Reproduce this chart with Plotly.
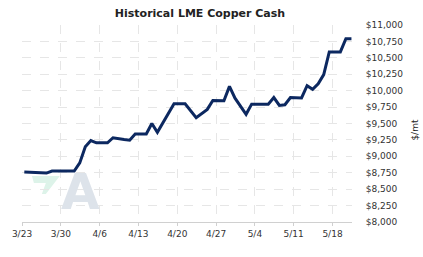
import pandas as pd
import plotly.graph_objects as go

# ---- data ----
start_date = "2021-03-23"
day_offsets = [0, 2, 4, 5, 9, 10, 11, 12, 13, 15, 16, 18, 19, 20, 22, 23, 24, 27, 29,
               31, 33, 34, 36, 37, 38, 40, 41, 44, 45, 46, 47, 48, 50, 51, 52, 53, 54,
               55, 57, 58, 59]
prices = [8760, 8755, 8745, 8775, 8775, 8900, 9145, 9240, 9205, 9205, 9283, 9255, 9245,
          9340, 9340, 9500, 9365, 9800, 9800, 9590, 9715, 9850, 9845, 10065, 9885, 9640,
          9795, 9795, 9895, 9775, 9785, 9895, 9890, 10075, 10020, 10105, 10245, 10590,
          10590, 10790, 10790]
tick_labels = ["3/23", "3/30", "4/6", "4/13", "4/20", "4/27", "5/4", "5/11", "5/18"]
title_text = "Historical LME Copper Cash"
y_title = "$/mt"

# ---- build ----
base = pd.Timestamp(start_date)
dates = [base + pd.Timedelta(days=d) for d in day_offsets]
shift = pd.Timedelta(hours=10)
tickvals = [base + pd.Timedelta(days=7 * i) - shift for i in range(len(tick_labels))]
x_range = [base - shift, base + pd.Timedelta(days=59.1)]

fig = go.Figure()
fig.add_trace(go.Scatter(x=dates, y=prices, mode="lines",
                         line=dict(color="#0c2860", width=3), hoverinfo="skip"))

W, H = 423, 257
L, R, T, B = 20, 71, 25, 35
pw, ph = W - L - R, H - T - B

def px(x):
    return (x - L) / pw

def py(y):
    return (H - B - y) / ph

# watermark logo (decorative)
green = [(30, 176), (58, 176), (44, 194), (40, 194), (44, 183), (32, 183)]
path_g = "M " + " L ".join(f"{px(a):.4f},{py(b):.4f}" for a, b in green) + " Z"
fig.add_shape(type="path", path=path_g, xref="paper", yref="paper",
              fillcolor="#ddf3e9", line=dict(width=0), layer="below")
fig.add_annotation(x=px(79), y=py(192), xref="paper", yref="paper", text="<b>A</b>",
                   showarrow=False, font=dict(family="DejaVu Sans", size=50, color="#dde3ea"),
                   xanchor="center", yanchor="middle")

fig.add_annotation(x=px(415), y=py(130), xref="paper", yref="paper", text=y_title,
                   textangle=-90, showarrow=False,
                   font=dict(family="DejaVu Sans", size=9, color="#222"),
                   xanchor="center", yanchor="middle")

fig.update_layout(
    width=W, height=H,
    margin=dict(l=L, r=R, t=T, b=B),
    paper_bgcolor="white", plot_bgcolor="white",
    showlegend=False,
    title=dict(text=f"<b>{title_text}</b>", xref="container", yref="container",
               x=200 / W, y=1 - 13 / H, xanchor="center", yanchor="middle",
               font=dict(family="DejaVu Sans", size=11, color="#222")),
    xaxis=dict(type="date", range=x_range, tickmode="array", tickvals=tickvals,
               ticktext=tick_labels, showgrid=True, gridcolor="#e6e6e6", griddash="dash",
               gridwidth=1, showline=True, linecolor="#d0d0d0", linewidth=1,
               ticks="outside", ticklen=3, tickcolor="#d0d0d0",
               tickfont=dict(family="DejaVu Sans", size=9, color="#333"), zeroline=False),
    yaxis=dict(side="right", range=[8000, 11000], dtick=250, tick0=8000,
               tickformat="$,.0f", showgrid=True, gridcolor="#e6e6e6", griddash="dash",
               gridwidth=1, showline=False, ticks="outside", ticklen=11,
               tickcolor="rgba(0,0,0,0)",
               tickfont=dict(family="DejaVu Sans", size=9, color="#333"), zeroline=False),
)

fig.write_html("out.html")
